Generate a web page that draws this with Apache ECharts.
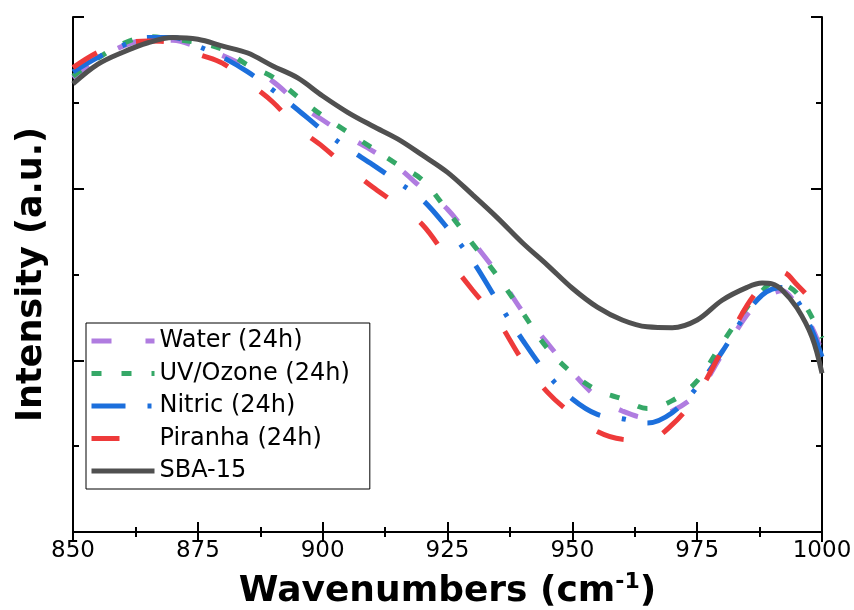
<!DOCTYPE html>
<html>
<head>
<meta charset="utf-8">
<script src="https://cdn.jsdelivr.net/npm/echarts@6/dist/echarts.min.js"></script>
<style>
html,body{margin:0;padding:0;background:#fff;}
#chart{width:854px;height:610px;}
</style>
</head>
<body>
<div id="chart"></div>
<script>
// Wavenumbers (cm-1)
var wavenumbers = [850,855,860,865,870,875,880,885,890,895,900,905,910,915,920,925,930,935,940,945,950,955,960,965,970,975,980,985,988,990,992,995,998,1000];
// Intensity (a.u.)
var water   = [5.29,5.50,5.66,5.73,5.73,5.65,5.55,5.41,5.25,5.00,4.80,4.61,4.44,4.25,4.00,3.76,3.39,3.01,2.57,2.20,1.86,1.57,1.41,1.33,1.41,1.62,2.07,2.53,2.70,2.78,2.81,2.64,2.38,2.09];
var uvOzone = [5.31,5.52,5.69,5.77,5.74,5.70,5.62,5.44,5.30,5.07,4.85,4.66,4.47,4.28,4.10,3.74,3.36,2.98,2.56,2.14,1.85,1.65,1.55,1.44,1.53,1.76,2.20,2.62,2.81,2.90,2.89,2.78,2.50,2.26];
var nitric  = [5.36,5.53,5.67,5.76,5.76,5.66,5.53,5.36,5.15,4.92,4.68,4.47,4.28,4.08,3.87,3.54,3.16,2.69,2.24,1.84,1.55,1.37,1.32,1.27,1.39,1.69,2.10,2.56,2.76,2.83,2.85,2.70,2.35,2.04];
var piranha = [5.41,5.59,5.69,5.72,5.70,5.57,5.46,5.24,5.01,4.71,4.49,4.24,4.02,3.81,3.58,3.19,2.82,2.47,2.00,1.63,1.37,1.17,1.08,1.07,1.25,1.60,2.12,2.64,2.87,2.96,3.03,2.88,2.68,2.43];
var sba15   = [5.22,5.45,5.59,5.70,5.76,5.74,5.66,5.58,5.43,5.29,5.08,4.89,4.73,4.58,4.39,4.19,3.93,3.66,3.37,3.11,2.84,2.62,2.47,2.39,2.38,2.47,2.70,2.85,2.90,2.89,2.82,2.61,2.27,1.85];
var seriesNames = ['Water (24h)','UV/Ozone (24h)','Nitric (24h)','Piranha (24h)','SBA-15'];
var xTicks = [850,875,900,925,950,975,1000];

function pairs(arr){ return wavenumbers.map(function(w,i){ return [w, arr[i]]; }); }

var FONT = "'DejaVu Sans', 'Liberation Sans', Arial, sans-serif";
var chart = echarts.init(document.getElementById('chart'), null, {renderer:'canvas'});

function mkSeries(name, data, color, dash, z){
  return {
    name: name, type: 'line', data: pairs(data), smooth: 0.35,
    showSymbol: false, symbol: 'none', z: z,
    lineStyle: { color: color, width: 5, type: dash, cap: 'butt' },
    itemStyle: { color: color }
  };
}

var axisLine = { show: true, lineStyle: { color: '#000', width: 2 } };

chart.setOption({
  animation: false,
  backgroundColor: '#fff',
  grid: { left: 73, right: 32, top: 17, bottom: 78, containLabel: false, outerBoundsMode: 'none' },
  xAxis: [{
    type: 'value', min: 850, max: 1000, interval: 25,
    axisLine: axisLine,
    axisTick: { show: true, inside: true, length: 10, lineStyle: { color: '#000', width: 2 } },
    minorTick: { show: true, splitNumber: 2, length: 5, lineStyle: { color: '#000', width: 2 } },
    splitLine: { show: false },
    axisLabel: { show: true, margin: 8, fontSize: 23, color: '#000', fontFamily: FONT,
      formatter: function(v){ return xTicks.indexOf(v) >= 0 ? String(v) : ''; } },
    name: 'Wavenumbers (cm{sup|-1})',
    nameLocation: 'middle', nameGap: 39,
    nameTextStyle: { fontSize: 36, fontWeight: 'bold', color: '#000', fontFamily: FONT,
      rich: { sup: { fontSize: 22, fontWeight: 'bold', fontFamily: FONT, color: '#000', padding: [0,0,20,0] } } }
  },{
    type: 'value', position: 'top', min: 850, max: 1000, interval: 25,
    axisLine: axisLine,
    axisTick: { show: true, inside: true, length: 10, lineStyle: { color: '#000', width: 2 } },
    minorTick: { show: true, splitNumber: 2, length: 5, lineStyle: { color: '#000', width: 2 } },
    splitLine: { show: false }, axisLabel: { show: false }
  }],
  yAxis: [{
    type: 'value', min: 0, max: 6, interval: 2,
    axisLine: axisLine,
    axisTick: { show: true, inside: true, length: 11, lineStyle: { color: '#000', width: 2 } },
    minorTick: { show: true, splitNumber: 2, length: 6, lineStyle: { color: '#000', width: 2 } },
    splitLine: { show: false }, axisLabel: { show: false },
    name: 'Intensity (a.u.)', nameLocation: 'middle', nameGap: 24, nameRotate: 90,
    nameTextStyle: { fontSize: 35, fontWeight: 'bold', color: '#000', fontFamily: FONT }
  },{
    type: 'value', position: 'right', min: 0, max: 6, interval: 2,
    axisLine: axisLine,
    axisTick: { show: true, inside: true, length: 11, lineStyle: { color: '#000', width: 2 } },
    minorTick: { show: true, splitNumber: 2, length: 6, lineStyle: { color: '#000', width: 2 } },
    splitLine: { show: false }, axisLabel: { show: false }
  }],
  legend: {
    orient: 'vertical', left: 86, top: 323,
    padding: [6, 20, 6, 3],
    itemGap: 8.5, itemWidth: 63, itemHeight: 5,
    borderColor: '#000', borderWidth: 1, backgroundColor: '#fff',
    itemStyle: { opacity: 0 },
    lineStyle: { width: 5 },
    textStyle: { fontSize: 24, color: '#000', fontFamily: FONT, lineHeight: 24 },
    data: seriesNames
  },
  series: [
    mkSeries(seriesNames[0], water,   '#b07ce0', [20,34], 2),
    mkSeries(seriesNames[1], uvOzone, '#35a867', [10,20], 3),
    mkSeries(seriesNames[2], nitric,  '#1c6fdc', [34,22,4,22], 4),
    mkSeries(seriesNames[3], piranha, '#ee3a3a', [28,41], 5),
    mkSeries(seriesNames[4], sba15,   '#505050', 'solid', 6)
  ]
});
</script>
</body>
</html>
